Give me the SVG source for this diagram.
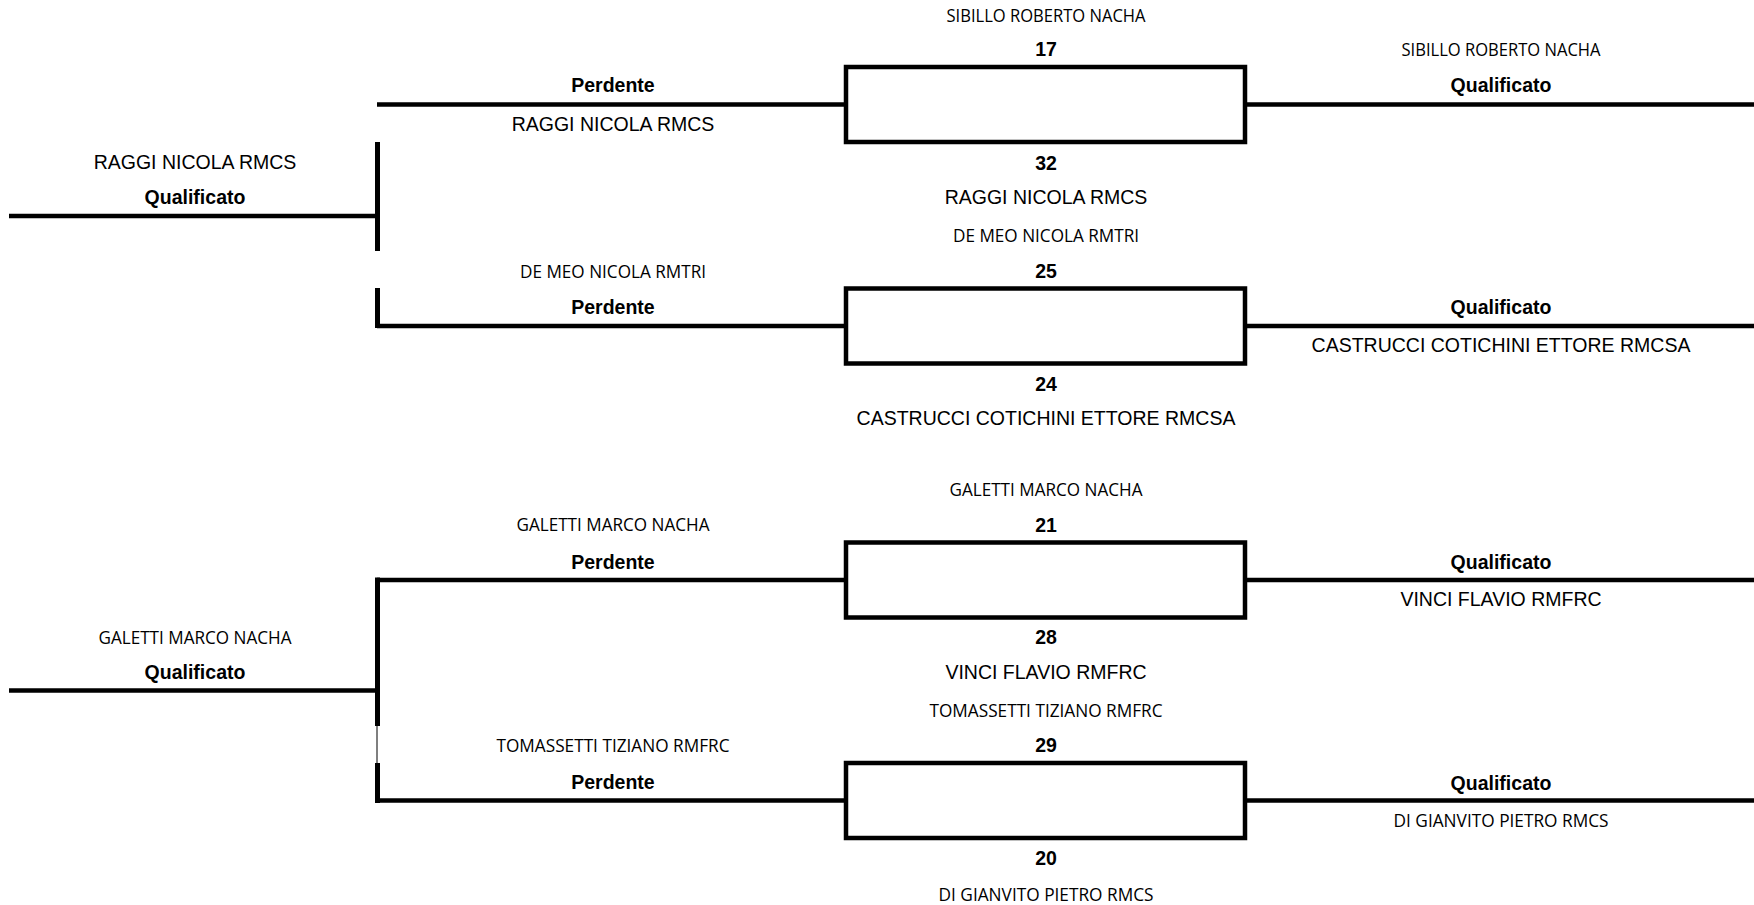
<svg xmlns="http://www.w3.org/2000/svg" width="1754" height="905" viewBox="0 0 1754 905">
<style>
.bg{fill:#ffffff}
.ln{stroke:#000;stroke-width:4.5;fill:none;stroke-linecap:butt}
.vl{stroke:#000;stroke-width:5;fill:none}
.thin{stroke:#555;stroke-width:1.5;fill:none}
.box{fill:none;stroke:#000;stroke-width:4.5}
.a{font-family:"Liberation Sans",Arial,sans-serif;font-size:19.5px;fill:#000;text-anchor:middle}
.b{font-family:"Liberation Sans",Arial,sans-serif;font-size:19.5px;font-weight:bold;fill:#000;text-anchor:middle}
.c{font-family:"Open Sans","Noto Sans",sans-serif;font-size:17.5px;fill:#000;text-anchor:middle}
</style>
<rect class="bg" x="0" y="0" width="1754" height="905"/>
<g id="connectors">
  <line class="ln" x1="377" y1="104.5" x2="846" y2="104.5"/>
  <line class="ln" x1="1245" y1="104.5" x2="1754" y2="104.5"/>
  <line class="ln" x1="9" y1="216" x2="377" y2="216"/>
  <line class="vl" x1="377.5" y1="142" x2="377.5" y2="251"/>
  <line class="vl" x1="377.5" y1="288" x2="377.5" y2="328"/>
  <line class="ln" x1="377" y1="326" x2="846" y2="326"/>
  <line class="ln" x1="1245" y1="326" x2="1754" y2="326"/>
  <line class="ln" x1="377" y1="580" x2="846" y2="580"/>
  <line class="ln" x1="1245" y1="580" x2="1754" y2="580"/>
  <line class="ln" x1="9" y1="690.5" x2="377" y2="690.5"/>
  <line class="vl" x1="377.5" y1="577.5" x2="377.5" y2="726"/>
  <line class="thin" x1="377" y1="726" x2="377" y2="763"/>
  <line class="vl" x1="377.5" y1="763" x2="377.5" y2="803"/>
  <line class="ln" x1="377" y1="800.5" x2="846" y2="800.5"/>
  <line class="ln" x1="1245" y1="800.5" x2="1754" y2="800.5"/>
</g>
<g id="match1">
  <rect class="box" x="846" y="67" width="399" height="75"/>
  <text class="c" x="1046" y="22" textLength="199" lengthAdjust="spacingAndGlyphs">SIBILLO ROBERTO NACHA</text>
  <text class="b" x="1046" y="56">17</text>
  <text class="b" x="1046" y="169.5">32</text>
  <text class="a" x="1046" y="204">RAGGI NICOLA RMCS</text>
</g>
<g id="match2">
  <rect class="box" x="846" y="288.5" width="399" height="75"/>
  <text class="c" x="1046" y="242" textLength="186" lengthAdjust="spacingAndGlyphs">DE MEO NICOLA RMTRI</text>
  <text class="b" x="1046" y="277.5">25</text>
  <text class="b" x="1046" y="390.5">24</text>
  <text class="a" x="1046" y="425">CASTRUCCI COTICHINI ETTORE RMCSA</text>
</g>
<g id="match3">
  <rect class="box" x="846" y="542.5" width="399" height="75"/>
  <text class="c" x="1046" y="496" textLength="193" lengthAdjust="spacingAndGlyphs">GALETTI MARCO NACHA</text>
  <text class="b" x="1046" y="531.5">21</text>
  <text class="b" x="1046" y="644">28</text>
  <text class="a" x="1046" y="679">VINCI FLAVIO RMFRC</text>
</g>
<g id="match4">
  <rect class="box" x="846" y="763" width="399" height="75"/>
  <text class="c" x="1046" y="716.5" textLength="233" lengthAdjust="spacingAndGlyphs">TOMASSETTI TIZIANO RMFRC</text>
  <text class="b" x="1046" y="751.5">29</text>
  <text class="b" x="1046" y="865">20</text>
  <text class="c" x="1046" y="900.5" textLength="215" lengthAdjust="spacingAndGlyphs">DI GIANVITO PIETRO RMCS</text>
</g>
<g id="loser1">
  <text class="b" x="613" y="92">Perdente</text>
  <text class="a" x="613" y="131">RAGGI NICOLA RMCS</text>
</g>
<g id="loser2">
  <text class="c" x="613" y="278" textLength="186" lengthAdjust="spacingAndGlyphs">DE MEO NICOLA RMTRI</text>
  <text class="b" x="613" y="313.5">Perdente</text>
</g>
<g id="loser3">
  <text class="c" x="613" y="531" textLength="193" lengthAdjust="spacingAndGlyphs">GALETTI MARCO NACHA</text>
  <text class="b" x="613" y="568.5">Perdente</text>
</g>
<g id="loser4">
  <text class="c" x="613" y="752" textLength="233" lengthAdjust="spacingAndGlyphs">TOMASSETTI TIZIANO RMFRC</text>
  <text class="b" x="613" y="789">Perdente</text>
</g>
<g id="final1">
  <text class="a" x="195" y="169">RAGGI NICOLA RMCS</text>
  <text class="b" x="195" y="204">Qualificato</text>
</g>
<g id="final2">
  <text class="c" x="195" y="644" textLength="193" lengthAdjust="spacingAndGlyphs">GALETTI MARCO NACHA</text>
  <text class="b" x="195" y="679">Qualificato</text>
</g>
<g id="winner1">
  <text class="c" x="1501" y="56" textLength="199" lengthAdjust="spacingAndGlyphs">SIBILLO ROBERTO NACHA</text>
  <text class="b" x="1501" y="92">Qualificato</text>
</g>
<g id="winner2">
  <text class="b" x="1501" y="313.5">Qualificato</text>
  <text class="a" x="1501" y="352">CASTRUCCI COTICHINI ETTORE RMCSA</text>
</g>
<g id="winner3">
  <text class="b" x="1501" y="568.5">Qualificato</text>
  <text class="a" x="1501" y="606">VINCI FLAVIO RMFRC</text>
</g>
<g id="winner4">
  <text class="b" x="1501" y="789.5">Qualificato</text>
  <text class="c" x="1501" y="826.5" textLength="215" lengthAdjust="spacingAndGlyphs">DI GIANVITO PIETRO RMCS</text>
</g>
</svg>
